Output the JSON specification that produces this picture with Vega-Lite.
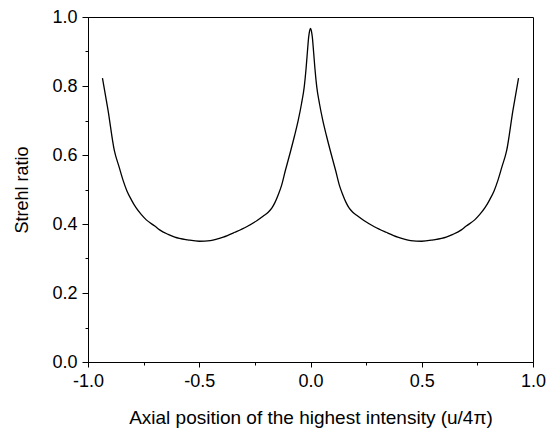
{
  "$schema": "https://vega.github.io/schema/vega-lite/v6.json",
  "width": 445,
  "height": 345,
  "autosize": {"type": "none"},
  "padding": {"left": 88, "top": 17, "right": 13, "bottom": 68},
  "background": "white",
  "config": {
    "view": {"stroke": "#000", "strokeWidth": 1},
    "font": "Liberation Sans",
    "axis": {
      "domainColor": "#000",
      "tickColor": "#000",
      "labelColor": "#000",
      "titleColor": "#000",
      "labelFont": "Liberation Sans",
      "titleFont": "Liberation Sans",
      "labelFontSize": 18,
      "titleFontSize": 18,
      "titleFontWeight": "normal",
      "grid": false
    }
  },
  "data": {
    "values": [
      {"x": -0.935, "y": 0.823},
      {"x": -0.91, "y": 0.73},
      {"x": -0.882, "y": 0.614},
      {"x": -0.86, "y": 0.565},
      {"x": -0.843, "y": 0.528},
      {"x": -0.825, "y": 0.496},
      {"x": -0.805, "y": 0.47},
      {"x": -0.785, "y": 0.448},
      {"x": -0.76, "y": 0.427},
      {"x": -0.738, "y": 0.412},
      {"x": -0.7, "y": 0.394},
      {"x": -0.678, "y": 0.383},
      {"x": -0.64, "y": 0.37},
      {"x": -0.61, "y": 0.362},
      {"x": -0.551, "y": 0.354},
      {"x": -0.5, "y": 0.35},
      {"x": -0.45, "y": 0.352},
      {"x": -0.392, "y": 0.362},
      {"x": -0.34, "y": 0.376},
      {"x": -0.287, "y": 0.392},
      {"x": -0.24, "y": 0.41},
      {"x": -0.212, "y": 0.423},
      {"x": -0.19, "y": 0.434},
      {"x": -0.174, "y": 0.446},
      {"x": -0.16, "y": 0.462},
      {"x": -0.145, "y": 0.485},
      {"x": -0.13, "y": 0.512},
      {"x": -0.113, "y": 0.555},
      {"x": -0.092, "y": 0.605},
      {"x": -0.072, "y": 0.655},
      {"x": -0.055, "y": 0.701},
      {"x": -0.04, "y": 0.75},
      {"x": -0.028, "y": 0.798},
      {"x": -0.02, "y": 0.85},
      {"x": -0.0144, "y": 0.895},
      {"x": -0.008, "y": 0.943},
      {"x": -0.004, "y": 0.96},
      {"x": 0.0, "y": 0.967},
      {"x": 0.004, "y": 0.96},
      {"x": 0.008, "y": 0.943},
      {"x": 0.0144, "y": 0.895},
      {"x": 0.02, "y": 0.85},
      {"x": 0.028, "y": 0.798},
      {"x": 0.04, "y": 0.75},
      {"x": 0.055, "y": 0.701},
      {"x": 0.072, "y": 0.655},
      {"x": 0.092, "y": 0.605},
      {"x": 0.113, "y": 0.555},
      {"x": 0.13, "y": 0.512},
      {"x": 0.145, "y": 0.485},
      {"x": 0.16, "y": 0.462},
      {"x": 0.174, "y": 0.446},
      {"x": 0.19, "y": 0.434},
      {"x": 0.212, "y": 0.423},
      {"x": 0.24, "y": 0.41},
      {"x": 0.287, "y": 0.392},
      {"x": 0.34, "y": 0.376},
      {"x": 0.392, "y": 0.362},
      {"x": 0.45, "y": 0.352},
      {"x": 0.5, "y": 0.35},
      {"x": 0.551, "y": 0.354},
      {"x": 0.61, "y": 0.362},
      {"x": 0.64, "y": 0.37},
      {"x": 0.678, "y": 0.383},
      {"x": 0.7, "y": 0.394},
      {"x": 0.738, "y": 0.412},
      {"x": 0.76, "y": 0.427},
      {"x": 0.785, "y": 0.448},
      {"x": 0.805, "y": 0.47},
      {"x": 0.825, "y": 0.496},
      {"x": 0.843, "y": 0.528},
      {"x": 0.86, "y": 0.565},
      {"x": 0.882, "y": 0.614},
      {"x": 0.91, "y": 0.73},
      {"x": 0.935, "y": 0.823}
    ]
  },
  "mark": {"type": "line", "color": "#000", "strokeWidth": 1.3, "interpolate": "monotone"},
  "encoding": {
    "x": {
      "field": "x",
      "type": "quantitative",
      "scale": {"domain": [-1, 1], "nice": false, "zero": false},
      "axis": {
        "title": "Axial position of the highest intensity (u/4π)",
        "titleFontSize": 19,
        "values": [-1, -0.75, -0.5, -0.25, 0, 0.25, 0.5, 0.75, 1],
        "labelExpr": "round(datum.value*4)%2==0 ? replace(format(datum.value,'.1f'),'−','-') : ''",
        "tickSize": {"condition": {"test": "round(datum.value*4)%2==0", "value": 5}, "value": 3},
        "labelPadding": 5,
        "titlePadding": 18,
        "labelFlush": false,
        "labelOverlap": false
      }
    },
    "y": {
      "field": "y",
      "type": "quantitative",
      "scale": {"domain": [0, 1], "nice": false},
      "axis": {
        "title": "Strehl ratio",
        "values": [0, 0.1, 0.2, 0.3, 0.4, 0.5, 0.6, 0.7, 0.8, 0.9, 1.0],
        "labelExpr": "round(datum.value*10)%2==0 ? format(datum.value,'.1f') : ''",
        "tickSize": {"condition": {"test": "round(datum.value*10)%2==0", "value": 6}, "value": 3},
        "labelPadding": 5,
        "titlePadding": 20,
        "labelFlush": false,
        "labelOverlap": false
      }
    }
  }
}
